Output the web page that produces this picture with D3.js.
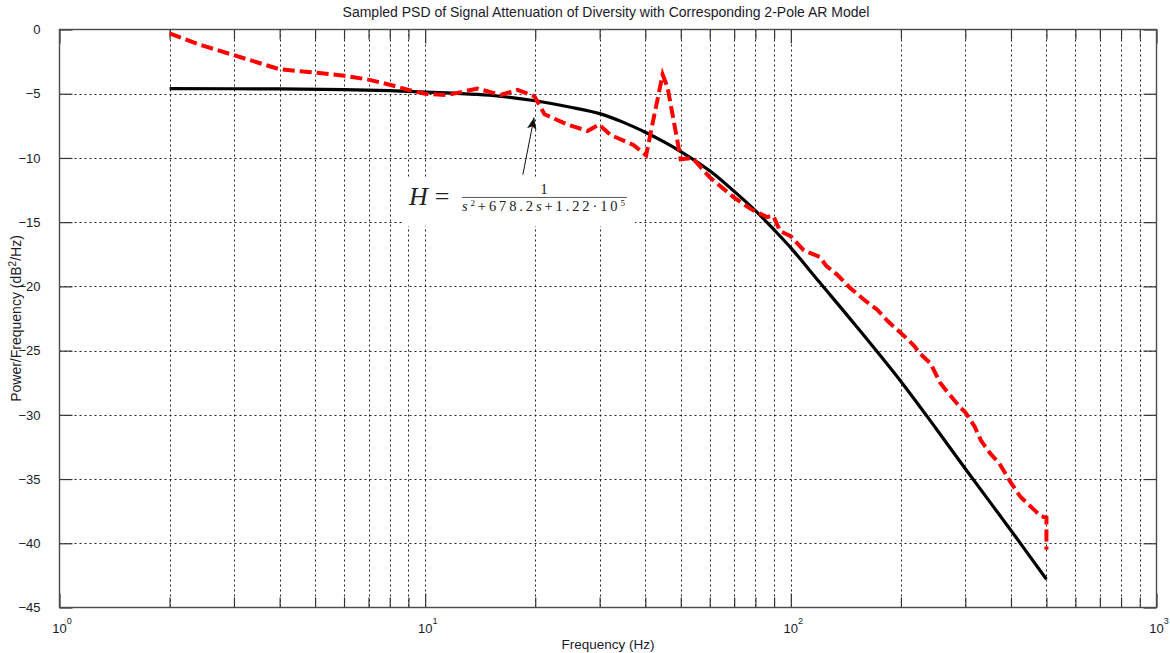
<!DOCTYPE html>
<html>
<head>
<meta charset="utf-8">
<script src="https://cdn.jsdelivr.net/npm/d3@7/dist/d3.min.js"></script>
<style>
  html, body { margin: 0; padding: 0; background: #fff; }
  svg { display: block; }
  text { font-family: "Liberation Sans", Arial, sans-serif; fill: #1a1a2a; }
</style>
</head>
<body>
<svg id="chart" width="1170" height="653"></svg>
<script>
// Sampled PSD (red, dashed) and the 2-pole AR model response (black)
const psdFreq = [2, 2.43, 3, 4, 5, 6, 7, 8, 9, 10, 11.5, 13.9, 16.1, 17.9, 19.9, 21.2, 24.5, 27.8, 29.9, 32.1, 37.2, 40.2,
                 44.6, 46, 50, 53.8, 60, 70, 78, 86, 89.5, 93.5, 100, 108.5, 120, 125, 134, 145, 158, 172, 184, 203, 217,
                 225, 241, 256, 266, 290, 300, 318, 331, 351, 372, 400, 425, 463, 484, 500, 500];
const psdDb   = [-0.3, -1.2, -2.0, -3.1, -3.35, -3.6, -3.9, -4.3, -4.7, -5.0, -5.1, -4.6, -5.1, -4.7, -5.2, -6.6, -7.4, -7.9, -7.4, -8.2, -9.0, -9.8,
                 -3.5, -4.5, -10.1, -10.0, -11.5, -13.1, -14.0, -14.6, -14.5, -15.7, -16.1, -17.2, -17.7, -18.4, -19.1, -20.1, -21.0, -21.8, -22.7, -23.8, -24.6,
                 -25.2, -26.0, -27.5, -28.1, -29.4, -29.8, -30.9, -32.0, -33.0, -33.8, -35.3, -36.4, -37.4, -37.9, -38.0, -40.5];

const modelFreq = [2, 4, 6, 8, 10, 12, 15, 20, 25, 30, 35, 40, 45, 50, 60, 70, 80, 90, 100, 120, 150, 200, 250, 300, 400, 500];
const modelDb   = [-4.6, -4.63, -4.68, -4.76, -4.87, -4.96, -5.12, -5.55, -6.05, -6.55, -7.25, -8.0, -8.75, -9.5, -11.0, -12.6, -14.1, -15.6, -17.0, -19.7, -23.0, -27.4, -31.1, -34.2, -39.0, -42.8];

const xMajorTicks = [1, 10, 100, 1000];
const xMajorExp   = ["0", "1", "2", "3"];
const yTicks      = [0, -5, -10, -15, -20, -25, -30, -35, -40, -45];

// annotation: arrow tail / head and equation anchor, in (Hz, dB)
const arrowTail  = [18.5, -11.3];
const arrowHead  = [19.85, -6.85];
const eqAnchor   = [9.03, -13.66];

const svg = d3.select("#chart");
const padL = 59.5, padR = 1156.5, padT = 29.5, padB = 607.5;

const x = d3.scaleLog().domain([1, 1000]).range([padL, padR]);
const y = d3.scaleLinear().domain([-45, 0]).range([padB, padT]);

// minor decade positions
const xMinorTicks = [];
for (let d = 1; d < 1000; d *= 10) for (let k = 2; k <= 9; k++) xMinorTicks.push(k * d);
const xAllTicks = xMinorTicks.concat(xMajorTicks.slice(1, 3));

// grid
const grid = svg.append("g").attr("stroke", "#222").attr("stroke-width", 1).attr("stroke-dasharray", "2,3");
grid.selectAll("line.v").data(xAllTicks).join("line").attr("class", "v")
  .attr("x1", d => Math.round(x(d)) + 0.5).attr("x2", d => Math.round(x(d)) + 0.5)
  .attr("y1", padT).attr("y2", padB);
grid.selectAll("line.h").data(yTicks.slice(1, -1)).join("line").attr("class", "h")
  .attr("y1", d => Math.round(y(d)) + 0.5).attr("y2", d => Math.round(y(d)) + 0.5)
  .attr("x1", padL).attr("x2", padR);

// axes (ticks point inward, box on all four sides)
function styleAxis(g) {
  g.select(".domain").remove();
  g.selectAll(".tick line").attr("stroke", "#333").attr("stroke-width", 1.2);
}
svg.append("g").attr("transform", `translate(0,${padB})`)
  .call(d3.axisBottom(x).tickValues(xMinorTicks).tickSizeInner(-10).tickSizeOuter(0).tickFormat(""))
  .call(styleAxis);
svg.append("g").attr("transform", `translate(0,${padT})`)
  .call(d3.axisTop(x).tickValues(xMinorTicks).tickSizeInner(-10).tickSizeOuter(0).tickFormat(""))
  .call(styleAxis);
const xMajor = svg.append("g").attr("transform", `translate(0,${padB})`)
  .call(d3.axisBottom(x).tickValues(xMajorTicks).tickSizeInner(-14).tickSizeOuter(0).tickPadding(0).tickFormat(""))
  .call(styleAxis);
svg.append("g").attr("transform", `translate(0,${padT})`)
  .call(d3.axisTop(x).tickValues(xMajorTicks).tickSizeInner(-14).tickSizeOuter(0).tickFormat(""))
  .call(styleAxis);
xMajor.selectAll(".tick").each(function (d, i) {
  const t = d3.select(this).append("text")
    .attr("y", 25).attr("x", 2).attr("text-anchor", "middle")
    .style("font-size", "13px").attr("fill", "#1a1a2a");
  t.append("tspan").text("10");
  t.append("tspan").attr("dy", -9).style("font-size", "9px").text(xMajorExp[i]);
});

const yLeft = svg.append("g").attr("transform", `translate(${padL},0)`)
  .call(d3.axisLeft(y).tickValues(yTicks).tickSizeInner(-13).tickSizeOuter(0).tickPadding(19).tickFormat(d3.format("d")))
  .call(styleAxis);
yLeft.selectAll(".tick text").style("font-size", "13px").attr("fill", "#1a1a2a").attr("font-family", null);
svg.append("g").attr("transform", `translate(${padR},0)`)
  .call(d3.axisRight(y).tickValues(yTicks).tickSizeInner(-13).tickSizeOuter(0).tickFormat(""))
  .call(styleAxis);

// box
svg.append("rect").attr("x", padL).attr("y", padT).attr("width", padR - padL).attr("height", padB - padT)
  .attr("fill", "none").attr("stroke", "#4a4a4a").attr("stroke-width", 1.4);

// curves
const modelPts = modelFreq.map((f, i) => [f, modelDb[i]]);
const psdPts = psdFreq.map((f, i) => [f, psdDb[i]]);

svg.append("path").datum(modelPts)
  .attr("fill", "none").attr("stroke", "#000").attr("stroke-width", 3.2)
  .attr("d", d3.line().x(d => x(d[0])).y(d => y(d[1])).curve(d3.curveCatmullRom.alpha(0.5)));

svg.append("path").datum(psdPts)
  .attr("fill", "none").attr("stroke", "#ff0000").attr("stroke-width", 4)
  .attr("stroke-dasharray", "12,5")
  .attr("d", d3.line().x(d => x(d[0])).y(d => y(d[1])));

// equation label with white background
const ex = x(eqAnchor[0]), ey = y(eqAnchor[1]);
svg.append("rect").attr("x", ex - 6).attr("y", ey - 27).attr("width", 232).attr("height", 48).attr("fill", "#fff");
const eq = svg.append("g").attr("transform", `translate(${ex},${ey})`);
eq.append("text").attr("x", 0).attr("y", 0).style("font-size", "26px").style("font-family", "'Liberation Serif', serif").style("fill", "#222")
  .html('<tspan font-style="italic">H</tspan><tspan dx="7">=</tspan>');
eq.append("text").attr("x", 135).attr("y", -11).attr("text-anchor", "middle")
  .style("font-size", "15px").style("font-family", "'Liberation Serif', serif").style("fill", "#222").text("1");
eq.append("line").attr("x1", 53).attr("x2", 218).attr("y1", -7.5).attr("y2", -7.5).attr("stroke", "#444").attr("stroke-width", 0.9);
const den = eq.append("text").attr("x", 53).attr("y", 6.5)
  .attr("textLength", 163).attr("lengthAdjust", "spacing")
  .style("font-size", "14.5px").style("font-family", "'Liberation Serif', serif").style("fill", "#222");
den.append("tspan").attr("font-style", "italic").text("s");
den.append("tspan").attr("dy", -5).style("font-size", "9px").text("2");
den.append("tspan").attr("dy", 5).text("+678.2");
den.append("tspan").attr("font-style", "italic").text("s");
den.append("tspan").text("+1.22·10");
den.append("tspan").attr("dy", -5).style("font-size", "9px").text("5");

// arrow
const defs = svg.append("defs");
defs.append("marker").attr("id", "ah").attr("viewBox", "0 0 10 10").attr("refX", 10).attr("refY", 5)
  .attr("markerWidth", 12).attr("markerHeight", 12).attr("markerUnits", "userSpaceOnUse").attr("orient", "auto")
  .append("path").attr("d", "M0,1 L10,5 L0,9 L2.5,5 Z").attr("fill", "#111");
svg.append("line")
  .attr("x1", x(arrowTail[0])).attr("y1", y(arrowTail[1]))
  .attr("x2", x(arrowHead[0])).attr("y2", y(arrowHead[1]))
  .attr("stroke", "#111").attr("stroke-width", 1).attr("marker-end", "url(#ah)");

// titles
svg.append("text").attr("x", 606).attr("y", 17).attr("text-anchor", "middle")
  .style("font-size", "14px").text("Sampled PSD of Signal Attenuation of Diversity with Corresponding 2-Pole AR Model");
svg.append("text").attr("x", 608).attr("y", 649).attr("text-anchor", "middle")
  .style("font-size", "13.5px").text("Frequency (Hz)");
const yl = svg.append("text").attr("transform", `translate(21,${(padT + padB) / 2}) rotate(-90)`)
  .attr("text-anchor", "middle").style("font-size", "14px");
yl.append("tspan").text("Power/Frequency (dB");
yl.append("tspan").attr("dy", -5).style("font-size", "10px").text("2");
yl.append("tspan").attr("dy", 5).text("/Hz)");
</script>
</body>
</html>
